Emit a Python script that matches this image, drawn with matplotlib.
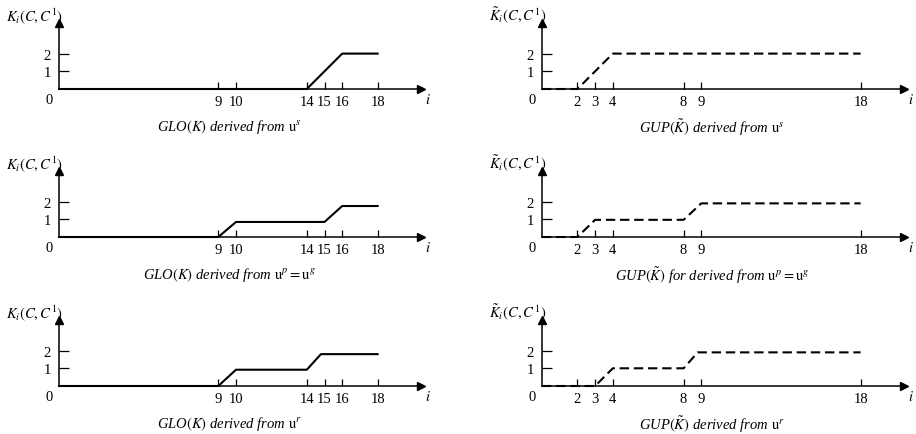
import matplotlib
matplotlib.use('Agg')
from matplotlib import pyplot as plt

# breakpoints of each curve
glo_s_x = [0, 14, 16, 18]
glo_s_y = [0, 0, 2, 2]
gup_s_x = [0, 2, 4, 18]
gup_s_y = [0, 0, 2, 2]
glo_pg_x = [0, 9, 10, 15, 16, 18]
glo_pg_y = [0, 0, 0.85, 0.85, 1.75, 1.75]
gup_pg_x = [0, 2, 3, 8, 9, 18]
gup_pg_y = [0, 0, 0.97, 0.97, 1.9, 1.9]
glo_r_x = [0, 9, 10, 14, 14.8, 18]
glo_r_y = [0, 0, 0.92, 0.92, 1.8, 1.8]
gup_r_x = [0, 3, 4, 8, 8.8, 18]
gup_r_y = [0, 0, 1.0, 1.0, 1.9, 1.9]

glo_ticks = [9, 10, 14, 15, 16, 18]
gup_ticks = [2, 3, 4, 8, 9, 18]
y_ticks = [1, 2]

glo_label = r"$K_i(C,C^1)$"
gup_label = r"$\tilde{K}_i(C,C^1)$"
captions = [
    (r"GLO$(K)$ derived from $\mathrm{u}^s$", r"GUP$(\tilde{K})$ derived from $\mathrm{u}^s$"),
    (r"GLO$(K)$ derived from $\mathrm{u}^p=\mathrm{u}^g$",
     r"GUP$(\tilde{K})$ for derived from $\mathrm{u}^p=\mathrm{u}^g$"),
    (r"GLO$(K)$ derived from $\mathrm{u}^r$", r"GUP$(\tilde{K})$ derived from $\mathrm{u}^r$"),
]

plt.rcParams['font.family'] = ['Liberation Serif', 'DejaVu Serif']
plt.rcParams['mathtext.fontset'] = 'stix'
plt.rcParams['font.size'] = 10.5

W, H = 916, 435
unit = 17.7
ax_w, ax_h = 362, 66
row_y = [90, 238, 387]
col_x = [59, 542]

fig = plt.figure(figsize=(W / 100, H / 100), dpi=100)

panels = [
    [(glo_s_x, glo_s_y, glo_ticks, '-'), (gup_s_x, gup_s_y, gup_ticks, '--')],
    [(glo_pg_x, glo_pg_y, glo_ticks, '-'), (gup_pg_x, gup_pg_y, gup_ticks, '--')],
    [(glo_r_x, glo_r_y, glo_ticks, '-'), (gup_r_x, gup_r_y, gup_ticks, '--')],
]

for r, row in enumerate(panels):
    for c, (xs, ys, xt, style) in enumerate(row):
        ox, oy = col_x[c], row_y[r]
        ax = fig.add_axes([ox / W, 1 - oy / H, ax_w / W, ax_h / H])
        ax.set_xlim(0, ax_w / unit)
        ax.set_ylim(0, ax_h / unit)
        ax.patch.set_visible(False)
        for s in ('top', 'right'):
            ax.spines[s].set_visible(False)
        for s in ('left', 'bottom'):
            ax.spines[s].set_linewidth(1.1)
        ax.plot(1, 0, '>k', ms=6, transform=ax.transAxes, clip_on=False)
        ax.plot(0, 1, '^k', ms=6, transform=ax.transAxes, clip_on=False)

        if style == '-':
            ax.plot(xs, ys, color='black', lw=1.5, clip_on=False)
        else:
            ax.plot(xs, ys, color='black', lw=1.5, linestyle=(0, (4.5, 2.3)), clip_on=False)

        ax.set_xticks(xt)
        ax.set_yticks(y_ticks)
        ax.tick_params(axis='x', direction='in', length=5, width=0.9, pad=4)
        ax.tick_params(axis='y', direction='in', length=7, width=0.9, pad=6)

        ax.annotate('0', (0, 0), xycoords='axes fraction', xytext=(-7, -7.5),
                    textcoords='offset points', ha='center', va='center')
        ax.annotate('$i$', (1, 0), xycoords='axes fraction', xytext=(5, -7),
                    textcoords='offset points', ha='center', va='center')
        ax.annotate(glo_label if c == 0 else gup_label, (0, 1), xycoords='axes fraction',
                    xytext=(3, 6), textcoords='offset points', ha='right', va='center')
        ax.annotate(captions[r][c], (0.47, 0), xycoords='axes fraction', xytext=(0, -27),
                    textcoords='offset points', ha='center', va='center', style='italic')

fig.savefig('out.png', dpi=100)
